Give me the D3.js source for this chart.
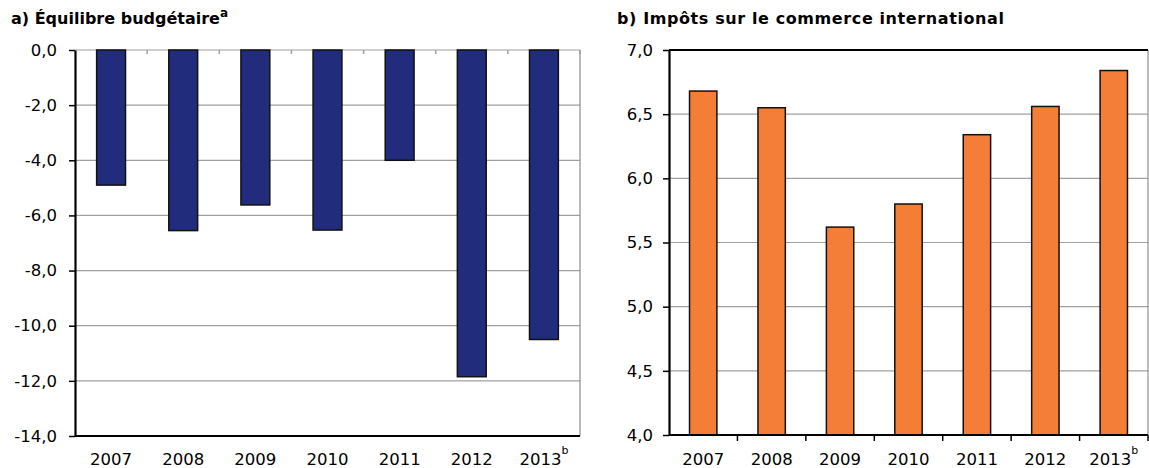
<!DOCTYPE html>
<html>
<head>
<meta charset="utf-8">
<script src="https://cdn.jsdelivr.net/npm/d3@7"></script>
<style>
	body { margin: 0; background: #fff; }
	text { font-family: "DejaVu Sans", Verdana, sans-serif; fill: #000; }
</style>
</head>
<body>
<div id="chart"></div>
<script>

	var years = ['2007', '2008', '2009', '2010', '2011', '2012', '2013'];
	var yearNotes = ['', '', '', '', '', '', 'b'];

	var budgetValues = [-4.9, -6.55, -5.62, -6.53, -4.0, -11.85, -10.5];
	var budgetTicks = [0, -2, -4, -6, -8, -10, -12, -14];

	var tradeTaxValues = [6.68, 6.55, 5.62, 5.80, 6.34, 6.56, 6.84];
	var tradeTaxTicks = [4.0, 4.5, 5.0, 5.5, 6.0, 6.5, 7.0];

	var svg = d3.select('#chart')
		.append('svg')
		.attr('width', 1149)
		.attr('height', 468);

	var fmt = function (v) { return d3.format('.1f')(v).replace('.', ',').replace('−', '-'); };

	function drawPanel(opts) {
		var x = d3.scaleBand()
			.domain(years)
			.range([opts.left, opts.right])
			.paddingInner(0.6)
			.paddingOuter(0.3);

		var xb = d3.scaleBand().domain(years).range([opts.left, opts.right]);

		var y = d3.scaleLinear()
			.domain(opts.domain)
			.range([opts.bottom, opts.top]);

		var g = svg.append('g');

		// gridlines
		g.selectAll('line.grid')
			.data(opts.ticks)
			.enter().append('line')
			.attr('class', 'grid')
			.attr('x1', opts.left).attr('x2', opts.right)
			.attr('y1', function (d) { return y(d); })
			.attr('y2', function (d) { return y(d); })
			.attr('stroke', '#a0a0a0')
			.attr('stroke-width', 1.2);

		// right border
		g.append('line')
			.attr('x1', opts.right).attr('x2', opts.right)
			.attr('y1', opts.top).attr('y2', opts.bottom)
			.attr('stroke', '#8c8c8c')
			.attr('stroke-width', 1.2);

		// bars
		g.selectAll('rect.bar')
			.data(opts.values)
			.enter().append('rect')
			.attr('class', 'bar')
			.attr('x', function (d, i) { return x(years[i]); })
			.attr('width', x.bandwidth())
			.attr('y', function (d) { return Math.min(y(d), y(opts.base)); })
			.attr('height', function (d) { return Math.abs(y(d) - y(opts.base)); })
			.attr('fill', opts.color)
			.attr('stroke', '#111')
			.attr('stroke-width', 1.5);

		// category ticks on the x axis line
		var bounds = years.slice(1).map(function (d) { return xb(d); }).concat([opts.right]);
		g.selectAll('line.xtick')
			.data(bounds)
			.enter().append('line')
			.attr('x1', function (d) { return d; })
			.attr('x2', function (d) { return d; })
			.attr('y1', y(opts.base))
			.attr('y2', y(opts.base) + opts.xTickLen)
			.attr('stroke', opts.xTickColor)
			.attr('stroke-width', 1.5);

		// axis frame lines
		g.append('line')
			.attr('x1', opts.left).attr('x2', opts.right)
			.attr('y1', opts.bottom).attr('y2', opts.bottom)
			.attr('stroke', '#000').attr('stroke-width', 2);
		if (opts.topBlack) {
			g.append('line')
				.attr('x1', opts.left).attr('x2', opts.right)
				.attr('y1', opts.top).attr('y2', opts.top)
				.attr('stroke', '#000').attr('stroke-width', 2);
		}

		// y axis
		var yAxis = d3.axisLeft(y)
			.tickValues(opts.ticks)
			.tickFormat(fmt)
			.tickSizeInner(6)
			.tickSizeOuter(0)
			.tickPadding(opts.yPad);

		var ya = g.append('g')
			.attr('transform', 'translate(' + opts.left + ',0)')
			.call(yAxis);
		ya.select('.domain').attr('stroke', '#000').attr('stroke-width', 2.2);
		ya.selectAll('.tick line').attr('stroke', '#000').attr('stroke-width', 1.5);
		ya.selectAll('.tick text')
			.attr('font-size', '16.5px')
			.attr('font-family', '"DejaVu Sans", Verdana, sans-serif')
			.attr('fill', '#000');

		// x labels
		var xl = g.selectAll('text.xlab')
			.data(years)
			.enter().append('text')
			.attr('class', 'xlab')
			.attr('x', function (d) { return xb(d) + xb.bandwidth() / 2; })
			.attr('y', 465)
			.attr('text-anchor', 'middle')
			.attr('font-size', '16.5px');
		xl.append('tspan').text(function (d) { return d; });
		xl.append('tspan')
			.attr('font-size', '11px')
			.attr('dy', -11)
			.text(function (d, i) { return yearNotes[i]; });

		// title
		var t = svg.append('text')
			.attr('x', opts.titleX)
			.attr('y', 24)
			.attr('font-size', '16px')
			.attr('font-weight', 'bold')
			.attr('letter-spacing', opts.titleSpacing);
		t.append('tspan').text(opts.title);
		if (opts.titleNote) {
			t.append('tspan')
				.attr('font-size', '12px')
				.attr('dy', -7)
				.text(opts.titleNote);
		}
	}

	drawPanel({
		left: 75, right: 580, top: 50, bottom: 436,
		domain: [-14, 0], base: 0, ticks: budgetTicks,
		values: budgetValues, color: '#212c7c',
		xTickLen: 4, xTickColor: '#a0a0a0', topBlack: false, yPad: 12,
		title: 'a) Équilibre budgétaire', titleNote: 'a', titleX: 11, titleSpacing: 0
	});

	drawPanel({
		left: 669, right: 1148, top: 50, bottom: 435,
		domain: [4, 7], base: 4, ticks: tradeTaxTicks,
		values: tradeTaxValues, color: '#f47d37',
		xTickLen: 6, xTickColor: '#000', topBlack: true, yPad: 10,
		title: 'b) Impôts sur le commerce international', titleNote: '', titleX: 617, titleSpacing: 0.6
	});

</script>
</body>
</html>
